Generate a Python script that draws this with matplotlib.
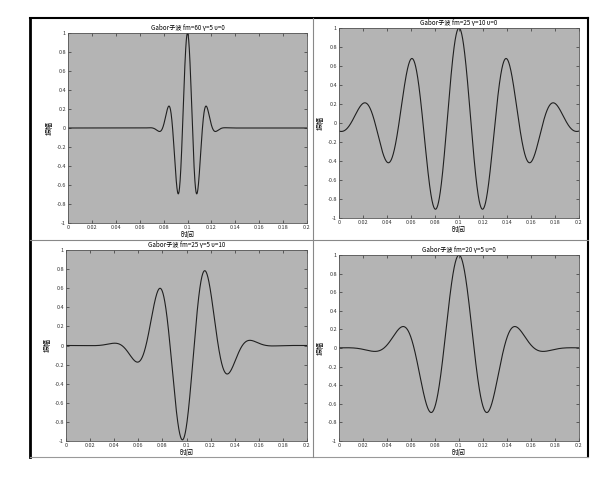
import numpy as np
import matplotlib
matplotlib.use("Agg")
import matplotlib.pyplot as plt
from matplotlib.lines import Line2D

plt.rcParams['font.family'] = ['Noto Sans CJK SC', 'DejaVu Sans']

titles = ["Gabor子波 fm=60 γ=5 υ=0", "Gabor子波 fm=25 γ=10 υ=0",
          "Gabor子波 fm=25 γ=5 υ=10", "Gabor子波 fm=20 γ=5 υ=0"]
fm = [60, 25, 25, 20]
gamma = [5, 10, 5, 5]
phase = [0, 0, 10, 0]
t0 = 0.1

xticks = [0, 0.02, 0.04, 0.06, 0.08, 0.1, 0.12, 0.14, 0.16, 0.18, 0.2]
xticklabels = ["0", "0.02", "0.04", "0.06", "0.08", "0.1", "0.12", "0.14", "0.16", "0.18", "0.2"]
yticks = [-1, -0.8, -0.6, -0.4, -0.2, 0, 0.2, 0.4, 0.6, 0.8, 1]
yticklabels = ["-1", "-0.8", "-0.6", "-0.4", "-0.2", "0", "0.2", "0.4", "0.6", "0.8", "1"]

W, H = 607, 478
fig = plt.figure(figsize=(W / 100, H / 100), dpi=100)
fig.patch.set_facecolor("white")

# axes boxes in pixels: left, top, right, bottom
boxes = [(68, 33, 307, 223), (339, 28, 579, 218),
         (66, 250, 307, 441), (339, 255, 579, 441)]

def px(x0, y0, x1, y1):
    return [x0 / W, 1 - y1 / H, (x1 - x0) / W, (y1 - y0) / H]

t = np.linspace(0, 0.2, 2001)
for i, b in enumerate(boxes):
    ax = fig.add_axes(px(*b))
    ax.set_facecolor("#b4b4b4")
    arg = 2 * np.pi * fm[i] * (t - t0)
    g = np.exp(-(arg / gamma[i]) ** 2) * np.cos(arg + phase[i])
    ax.plot(t, g, color="#202020", lw=0.8)
    ax.set_xlim(0, 0.2)
    ax.set_ylim(-1, 1)
    ax.set_xticks(xticks)
    ax.set_xticklabels(xticklabels)
    ax.set_yticks(yticks)
    ax.set_yticklabels(yticklabels)
    ax.tick_params(direction="in", length=2, width=0.5, labelsize=4, pad=1.5,
                   top=True, right=True, colors="#333333")
    for s in ax.spines.values():
        s.set_linewidth(0.6)
        s.set_color("#555555")
    ax.set_title(titles[i], fontsize=4.5, pad=2)
    ax.set_ylabel("振幅", fontsize=5, labelpad=2)
    ax.set_xlabel("时间", fontsize=5, labelpad=0.5)

# panel frame
def line(x0, y0, x1, y1, c, w):
    fig.add_artist(Line2D([x0 / W, x1 / W], [1 - y0 / H, 1 - y1 / H],
                          transform=fig.transFigure, color=c, lw=w))

line(30, 18, 588, 18, "black", 1.5)
line(30, 18, 30, 457, "black", 2)
line(588, 18, 588, 457, "black", 1.5)
line(30, 457, 588, 457, "#999999", 0.8)
line(30, 240, 588, 240, "#888888", 0.8)
line(313, 18, 313, 457, "#888888", 0.8)

fig.savefig("out.png", dpi=100)
